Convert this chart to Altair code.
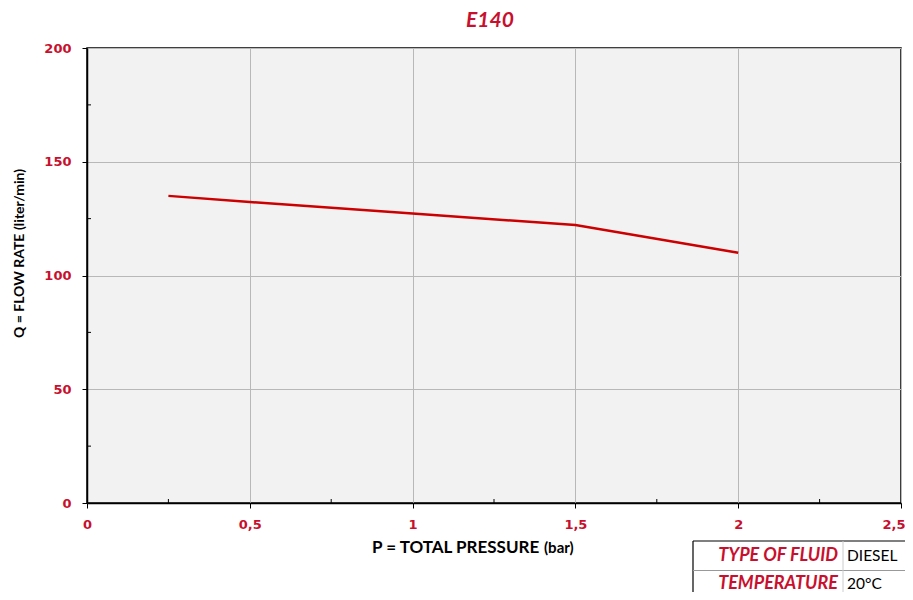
import altair as alt
import pandas as pd

# ---- data ----
pressure = [0.25, 0.5, 1.0, 1.5, 2.0]
flow = [135, 132.3, 127.2, 122.2, 110]
x_ticks = [0, 0.5, 1, 1.5, 2, 2.5]
y_ticks = [0, 50, 100, 150, 200]
x_minor = [0.25, 0.75, 1.25, 1.75, 2.25]
y_minor = [25, 75, 125, 175]
table_labels = ["TYPE OF FLUID", "TEMPERATURE"]
table_values = ["DIESEL", "20°C"]
chart_title = "E140"
x_title = ["P = TOTAL PRESSURE", "(bar)"]
y_title = ["Q = FLOW RATE", "(liter/min)"]

RED = "#c8102e"
LINE_RED = "#cc0000"
FONT = "Lato"
LABEL_FONT = "DejaVu Sans"
W, H = 814, 455

df = pd.DataFrame({"p": pressure, "q": flow})
xscale = alt.Scale(domain=[0, 2.5], nice=False, zero=False)
yscale = alt.Scale(domain=[0, 200], nice=False)

x_axis = alt.Axis(
    values=x_ticks,
    labelExpr="replace(toString(datum.value), '.', ',')",
    title=None, labelPadding=10, labelFlush=False,
    labelAlign={"expr": "datum.value == 2.5 ? 'right' : 'center'"},
    labelOffset={"expr": "datum.value == 2.5 ? 4 : 0"},
)
y_axis = alt.Axis(values=y_ticks, title=None, labelPadding=11, labelFlush=False)

line = alt.Chart(df).mark_line(color=LINE_RED, strokeWidth=2.5).encode(
    x=alt.X("p:Q", scale=xscale, axis=x_axis),
    y=alt.Y("q:Q", scale=yscale, axis=y_axis),
)

xm = alt.Chart(pd.DataFrame({"p": x_minor})).mark_rule(color="black", strokeWidth=1).encode(
    x=alt.X("p:Q", scale=xscale, axis=x_axis),
    y=alt.value(H), y2=alt.value(H - 4),
)
ym = alt.Chart(pd.DataFrame({"q": y_minor})).mark_rule(color="black", strokeWidth=1).encode(
    y=alt.Y("q:Q", scale=yscale, axis=y_axis),
    x=alt.value(0), x2=alt.value(4),
)

# ---- titles as text marks (mixed sizes) ----
tt = pd.DataFrame({"t": [chart_title]})
title_mark = alt.Chart(tt).mark_text(
    font=FONT, fontSize=21, fontStyle="italic", fontWeight="bold", color=RED,
    align="center", baseline="middle").encode(
    text="t:N", x=alt.value(403), y=alt.value(-27))

xt = pd.DataFrame({"t": x_title})
xt_main = alt.Chart(xt.iloc[[0]]).mark_text(
    font=FONT, fontSize=17, fontWeight="bold", color="black",
    align="left", baseline="alphabetic").encode(
    text="t:N", x=alt.value(285), y=alt.value(H + 50))
xt_unit = alt.Chart(xt.iloc[[1]]).mark_text(
    font=FONT, fontSize=15, fontWeight="bold", color="black",
    align="left", baseline="alphabetic").encode(
    text="t:N", x=alt.value(457), y=alt.value(H + 50))

yt = pd.DataFrame({"t": y_title})
yt_main = alt.Chart(yt.iloc[[0]]).mark_text(
    font=FONT, fontSize=14, fontWeight="bold", color="black", angle=270,
    align="left", baseline="alphabetic").encode(
    text="t:N", x=alt.value(-63), y=alt.value(290))
yt_unit = alt.Chart(yt.iloc[[1]]).mark_text(
    font=FONT, fontSize=14, fontWeight="bold", color="black", angle=270,
    align="left", baseline="alphabetic").encode(
    text="t:N", x=alt.value(-63), y=alt.value(182))

# ---- info table below right ----
tdf = pd.DataFrame({"label": table_labels, "value": table_values})
one = tdf.head(1)
box_top = alt.Chart(one).mark_rule(color="black", strokeWidth=1.2).encode(
    x=alt.value(606), x2=alt.value(830), y=alt.value(493))
box_left = alt.Chart(one).mark_rule(color="black", strokeWidth=1.2).encode(
    x=alt.value(606), y=alt.value(493), y2=alt.value(560))
row_sep = alt.Chart(one).mark_rule(color="#999999", strokeWidth=1).encode(
    x=alt.value(606), x2=alt.value(830), y=alt.value(522.5))
col_sep = alt.Chart(one).mark_rule(color="#cccccc", strokeWidth=1).encode(
    x=alt.value(756), y=alt.value(493), y2=alt.value(560))

lab_style = dict(align="right", baseline="middle", font=FONT, fontSize=18,
                 fontStyle="italic", fontWeight="bold", color=RED)
val_style = dict(align="left", baseline="middle", font=FONT, fontSize=15.5, color="black")

lab1 = alt.Chart(tdf.iloc[[0]]).mark_text(**lab_style).encode(
    text="label:N", x=alt.value(751), y=alt.value(508))
lab2 = alt.Chart(tdf.iloc[[1]]).mark_text(**lab_style).encode(
    text="label:N", x=alt.value(751), y=alt.value(536))
val1 = alt.Chart(tdf.iloc[[0]]).mark_text(**val_style).encode(
    text="value:N", x=alt.value(760), y=alt.value(508))
val2 = alt.Chart(tdf.iloc[[1]]).mark_text(**val_style).encode(
    text="value:N", x=alt.value(760), y=alt.value(536))

chart = alt.layer(
    line, xm, ym, title_mark, xt_main, xt_unit, yt_main, yt_unit,
    box_top, box_left, row_sep, col_sep, lab1, lab2, val1, val2
).properties(
    width=W, height=H,
    autosize=alt.AutoSizeParams(type="none"),
    padding={"left": 79, "top": 40, "right": 4, "bottom": 89},
).configure_view(
    fill="#f2f2f2", stroke="black", strokeWidth=1.5,
).configure_axis(
    domainColor="black", domainWidth=1.5, tickColor="black", tickSize=5,
    gridColor="#b8b8b8", gridWidth=1,
    labelColor=RED, labelFont=LABEL_FONT, labelFontSize=13, labelFontWeight="bold",
)

chart.save("out.html", embed_options={"renderer": "svg", "actions": False})
